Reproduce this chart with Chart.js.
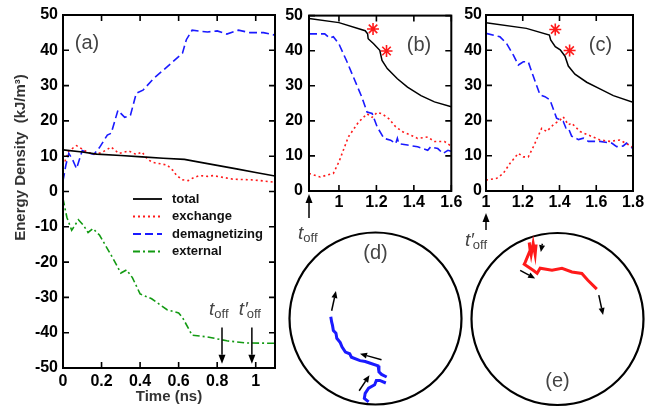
<!DOCTYPE html>
<html><head><meta charset="utf-8">
<script src="https://cdn.jsdelivr.net/npm/chart.js@4.4.0/dist/chart.umd.min.js"></script>
<style>
html,body{margin:0;padding:0;background:#fff;}
#wrap{position:relative;width:652px;height:408px;overflow:hidden;background:#fff;}
canvas{position:absolute;}
</style>
</head><body>
<div id="wrap">
<canvas id="cd" width="190" height="186" style="left:280px;top:222px"></canvas>
<canvas id="ce" width="190" height="186" style="left:462px;top:222px"></canvas>
<canvas id="ca" width="290" height="408" style="left:0;top:0"></canvas>
<canvas id="cb" width="190" height="270" style="left:276px;top:0"></canvas>
<canvas id="cc" width="194" height="270" style="left:458px;top:0"></canvas>
</div>
<script>
// ---------- DATA ----------
// Panel (a)
const aTicksX = [0, 0.2, 0.4, 0.6, 0.8, 1];
const aTicksY = [-50, -40, -30, -20, -10, 0, 10, 20, 30, 40, 50];
const aTotalT = [0, 0.1, 0.175, 0.3, 0.41, 0.52, 0.63, 0.7, 0.8, 0.9, 1.0, 1.1];
const aTotalE = [11.8, 11.2, 10.6, 10.2, 9.8, 9.4, 9.1, 8.4, 7.4, 6.4, 5.4, 4.4];
const aExchT = [0.01, 0.03, 0.07, 0.10, 0.13, 0.16, 0.2, 0.25, 0.29, 0.34, 0.38, 0.41, 0.44, 0.47, 0.51, 0.54, 0.57, 0.59, 0.62, 0.65, 0.68, 0.71, 0.75, 0.78, 0.83, 0.88, 0.93, 0.98, 1.04, 1.1];
const aExchE = [8.5, 11.5, 13.0, 12.0, 11.0, 10.6, 11.0, 12.6, 10.8, 11.5, 10.5, 11.2, 9.0, 8.2, 7.8, 7.5, 6.0, 4.5, 3.3, 3.1, 4.0, 4.5, 4.3, 4.5, 4.0, 3.5, 3.4, 3.3, 3.0, 2.6];
const aDemT = [0, 0.015, 0.03, 0.05, 0.07, 0.10, 0.13, 0.16, 0.19, 0.23, 0.25, 0.285, 0.32, 0.35, 0.38, 0.415, 0.47, 0.54, 0.62, 0.64, 0.67, 0.71, 0.75, 0.80, 0.85, 0.91, 0.97, 1.04, 1.1];
const aDemE = [3, 7.5, 10.8, 9.0, 6.5, 11.6, 11.0, 10.5, 12.5, 16, 16.5, 23, 21, 21.6, 27.8, 28.7, 32, 35.3, 39.2, 43, 45.7, 45.4, 45.2, 45.5, 44.6, 45.7, 45, 45, 44.3];
const aExtT = [0, 0.02, 0.045, 0.08, 0.105, 0.13, 0.155, 0.19, 0.26, 0.30, 0.33, 0.36, 0.40, 0.46, 0.54, 0.60, 0.62, 0.67, 0.75, 0.85, 0.95, 1.1];
const aExtE = [-2, -7.3, -11, -8, -9.5, -11.6, -10.5, -12.4, -19, -23.1, -22.2, -24.4, -29, -30.4, -33.5, -34.4, -35.7, -40.7, -41.2, -42.3, -42.9, -43];
const aLegend = ['total', 'exchange', 'demagnetizing', 'external'];
const tOff = 0.825, tOffPrime = 0.98;

// Panel (b)
const bTicksX = [1, 1.2, 1.4, 1.6];
const cTicksX = [1, 1.2, 1.4, 1.6, 1.8];
const bcTicksY = [0, 10, 20, 30, 40, 50];
const bTotalT = [0.84, 1.0, 1.14, 1.153, 1.156, 1.185, 1.218, 1.23, 1.258, 1.312, 1.366, 1.438, 1.51, 1.6];
const bTotalE = [49.2, 48.0, 45.7, 44.8, 43.4, 42, 40.1, 37.2, 34.9, 32, 29.6, 27.2, 25.4, 24];
const bDemT = [0.84, 0.924, 0.95, 0.97, 1.0, 1.04, 1.077, 1.122, 1.15, 1.177, 1.204, 1.24, 1.276, 1.303, 1.312, 1.32, 1.366, 1.42, 1.474, 1.49, 1.528, 1.555, 1.582, 1.604];
const bDemE = [44.8, 44.8, 43.6, 44, 41.9, 37.2, 32.5, 26.8, 22.5, 22.1, 18.3, 15, 14.5, 13.5, 15, 13.5, 13.1, 12.6, 11.6, 12.6, 12.1, 10.7, 11.6, 11.2];
const bExchT = [0.84, 0.9, 0.97, 1.0, 1.05, 1.104, 1.15, 1.177, 1.204, 1.23, 1.267, 1.303, 1.34, 1.384, 1.42, 1.474, 1.51, 1.564, 1.604];
const bExchE = [5, 4, 5, 8.3, 15.4, 19.6, 22, 21, 22.4, 22, 20.6, 18.3, 16.9, 15.9, 15, 15.4, 14.1, 14.1, 12.6];
const bStarT = [1.182, 1.254];
const bStarE = [46.2, 39.9];

// Panel (c)
const cTotalT = [1.0, 1.22, 1.345, 1.352, 1.377, 1.404, 1.43, 1.448, 1.484, 1.548, 1.62, 1.693, 1.8];
const cTotalE = [47.8, 46.2, 44.3, 42.9, 41, 40.1, 38.3, 35.5, 33.2, 30.9, 29, 27.1, 25.2];
const cDemT = [1.0, 1.076, 1.112, 1.149, 1.176, 1.203, 1.23, 1.258, 1.294, 1.321, 1.348, 1.384, 1.42, 1.435, 1.448, 1.466, 1.503, 1.53, 1.557, 1.62, 1.684, 1.711, 1.747, 1.765, 1.8];
const cDemE = [44.8, 43.8, 41.9, 38.6, 35.8, 36.7, 36.7, 32.5, 27.3, 26.8, 25.9, 20.7, 19.8, 17.9, 17.9, 15.6, 14.6, 15, 14.1, 14.1, 13.6, 12.6, 12.8, 13.6, 12];
const cExchT = [1.0, 1.058, 1.094, 1.13, 1.176, 1.203, 1.23, 1.258, 1.303, 1.33, 1.366, 1.404, 1.42, 1.448, 1.466, 1.512, 1.557, 1.62, 1.675, 1.729, 1.8];
const cExchE = [3.1, 3.6, 5, 7.8, 10.7, 9.7, 9.7, 12.6, 17.8, 16.9, 18.8, 20.2, 21.1, 18.8, 19.3, 16.9, 15.9, 14.5, 14.1, 14.5, 12.4];
const cStarT = [1.377, 1.455];
const cStarE = [45.9, 39.9];

// Panel (d) trajectory (projected unit sphere)
const dUpX = [-0.52, -0.51, -0.5, -0.49, -0.46, -0.45, -0.41, -0.39, -0.35, -0.3, -0.28, -0.18, -0.12, -0.06, 0.03, 0.04, 0.07, 0.13];
const dUpY = [0.02, -0.04, -0.08, -0.14, -0.17, -0.23, -0.28, -0.33, -0.39, -0.41, -0.45, -0.49, -0.5, -0.52, -0.55, -0.62, -0.65, -0.68];
const dLoX = [0.12, 0.05, 0.01, -0.01, -0.08, -0.12, -0.13, -0.08];
const dLoY = [-0.75, -0.72, -0.72, -0.77, -0.81, -0.87, -0.93, -0.97];
const dArrows = [[-0.51, 0.09, -0.46, 0.32], [0.07, -0.48, -0.18, -0.41], [-0.19, -0.84, -0.07, -0.66]];
// Panel (e)
const eX = [-0.249, -0.26, -0.283, -0.306, -0.329, -0.318, -0.376, -0.387, -0.283, -0.237, -0.202, -0.064, 0.052, 0.168, 0.283, 0.353, 0.457];
const eY = [0.867, 0.751, 0.879, 0.751, 0.89, 0.798, 0.659, 0.636, 0.566, 0.532, 0.59, 0.566, 0.59, 0.547, 0.529, 0.451, 0.347];
const eArrows = [[-0.176, 0.875, -0.194, 0.778], [-0.434, 0.566, -0.26, 0.47], [0.48, 0.277, 0.53, 0.046]];

// ---------- STYLE ----------
const FONT = "'Liberation Sans', Arial, Helvetica, sans-serif";
Chart.defaults.font.family = FONT;
const BLACK = '#000', RED = '#ff1a1a', BLUE = '#1a1aff', GREEN = '#129a12';
const DASH_EX = [2, 3], DASH_DEM = [8, 4], DASH_EXT = [7, 3, 2, 3];

function series(xs, ys, color, dash, width) {
  return { data: xs.map((x, i) => ({ x: x, y: ys[i] })), borderColor: color, borderDash: dash || [],
    borderWidth: width || 1.6, pointRadius: 0, fill: false, tension: 0 };
}
function stars(xs, ys) {
  return { data: xs.map((x, i) => ({ x: x, y: ys[i] })), showLine: false, pointStyle: 'star',
    pointRadius: 6, borderColor: RED, backgroundColor: RED, borderWidth: 1.6 };
}
function arrow(ctx, x1, y1, x2, y2, head, hw) {
  head = head || 8; hw = hw || 3.5;
  const ang = Math.atan2(y2 - y1, x2 - x1);
  const bx = x2 - head * Math.cos(ang), by = y2 - head * Math.sin(ang);
  ctx.beginPath(); ctx.moveTo(x1, y1); ctx.lineTo(bx, by); ctx.stroke();
  ctx.beginPath(); ctx.moveTo(x2, y2);
  ctx.lineTo(bx + hw * Math.sin(ang), by - hw * Math.cos(ang));
  ctx.lineTo(bx - hw * Math.sin(ang), by + hw * Math.cos(ang));
  ctx.closePath(); ctx.fill();
}
function frame(chart, xt, yt) {
  const { ctx, chartArea: a, scales } = chart;
  ctx.save(); ctx.strokeStyle = BLACK; ctx.lineWidth = 2; ctx.setLineDash([]);
  ctx.strokeRect(a.left, a.top, a.right - a.left, a.bottom - a.top);
  ctx.lineWidth = 1.6; ctx.beginPath();
  xt.forEach(v => { const p = scales.x.getPixelForValue(v);
    ctx.moveTo(p, a.bottom); ctx.lineTo(p, a.bottom - 6); ctx.moveTo(p, a.top); ctx.lineTo(p, a.top + 6); });
  yt.forEach(v => { const p = scales.y.getPixelForValue(v);
    ctx.moveTo(a.left, p); ctx.lineTo(a.left + 6, p); ctx.moveTo(a.right, p); ctx.lineTo(a.right - 6, p); });
  ctx.stroke(); ctx.restore();
}
function panelLabel(ctx, txt, x, y) {
  ctx.save(); ctx.fillStyle = '#444'; ctx.font = '20px ' + FONT;
  ctx.textAlign = 'center'; ctx.textBaseline = 'middle'; ctx.fillText(txt, x, y); ctx.restore();
}
function toffLabel(ctx, prime, x, y) {
  ctx.save(); ctx.fillStyle = '#444'; ctx.textBaseline = 'alphabetic'; ctx.textAlign = 'left';
  ctx.font = 'italic 19px ' + FONT; const t = prime ? 't\u2032' : 't';
  ctx.fillText(t, x, y); const w = ctx.measureText(t).width;
  ctx.font = '13px ' + FONT; ctx.fillText('off', x + w - (prime ? 1 : 0), y + 3); ctx.restore();
}
function tickFmt(v) { return String(Math.round(v * 10) / 10); }
function axes(xmin, xmax, xt, ymin, ymax, yt, yw, xh, xpad, ypad, xtitle) {
  return {
    x: { type: 'linear', min: xmin, max: xmax, grid: { display: false, drawTicks: false }, border: { display: false },
      afterBuildTicks: s => { s.ticks = xt.map(v => ({ value: v })); },
      afterFit: s => { s.height = xh; },
      ticks: { autoSkip: false, maxRotation: 0, padding: xpad, color: '#000', font: { size: 16, weight: 'bold' }, callback: tickFmt },
      title: xtitle ? { display: true, text: xtitle, color: '#333', font: { size: 15, weight: 'bold' }, padding: { top: 0, bottom: 2 } } : { display: false } },
    y: { type: 'linear', min: ymin, max: ymax, grid: { display: false, drawTicks: false }, border: { display: false },
      afterBuildTicks: s => { s.ticks = yt.map(v => ({ value: v })); },
      afterFit: s => { s.width = yw; },
      ticks: { autoSkip: false, padding: ypad, color: '#000', font: { size: 16, weight: 'bold' }, callback: tickFmt } }
  };
}
const common = { responsive: false, animation: false, events: [],
  plugins: { legend: { display: false }, tooltip: { enabled: false } } };

// ---------- (a) ----------
new Chart(document.getElementById('ca'), {
  type: 'line',
  data: { datasets: [
    series(aTotalT, aTotalE, BLACK, [], 1.6),
    series(aExchT, aExchE, RED, DASH_EX, 1.6),
    series(aDemT, aDemE, BLUE, DASH_DEM, 1.6),
    series(aExtT, aExtE, GREEN, DASH_EXT, 1.6)
  ] },
  options: Object.assign({}, common, {
    layout: { padding: { left: 0, top: 15, right: 15, bottom: 0 } },
    scales: axes(0, 1.1, aTicksX, -50, 50, aTicksY, 63, 40, 3.5, 5, 'Time (ns)')
  }),
  plugins: [{ id: 'decorA', afterDraw(chart) {
    const { ctx, chartArea: a, scales: { x, y } } = chart;
    frame(chart, aTicksX, aTicksY);
    // y title
    ctx.save(); ctx.translate(21, 157.5); ctx.rotate(-Math.PI / 2);
    ctx.fillStyle = '#333'; ctx.font = 'bold 15px ' + FONT; ctx.textAlign = 'center'; ctx.textBaseline = 'middle';
    ctx.fillText('Energy Density  (kJ/m\u00B3)', 0, 0); ctx.restore();
    // legend
    ctx.save();
    chart.data.datasets.forEach((ds, i) => {
      const yy = a.top + 184 + i * 17.5;
      ctx.strokeStyle = ds.borderColor; ctx.lineWidth = 1.8; ctx.setLineDash(ds.borderDash);
      ctx.beginPath(); ctx.moveTo(a.left + 70, yy); ctx.lineTo(a.left + 99, yy); ctx.stroke();
      ctx.setLineDash([]); ctx.fillStyle = '#111'; ctx.font = 'bold 13px ' + FONT;
      ctx.textAlign = 'left'; ctx.textBaseline = 'middle'; ctx.fillText(aLegend[i], a.left + 109, yy);
    });
    ctx.restore();
    // arrows t_off
    ctx.save(); ctx.strokeStyle = BLACK; ctx.fillStyle = BLACK; ctx.lineWidth = 1.5;
    [tOff, tOffPrime].forEach((t, i) => {
      const px = x.getPixelForValue(t);
      arrow(ctx, px, y.getPixelForValue(-38.5), px, y.getPixelForValue(-48.8), 9, 3.5);
      toffLabel(ctx, i === 1, px - 13, y.getPixelForValue(-38.5) - 12);
    });
    ctx.restore();
    panelLabel(ctx, '(a)', 87, 43);
  } }]
});

// ---------- (b) ----------
new Chart(document.getElementById('cb'), {
  type: 'line',
  data: { datasets: [
    series(bTotalT, bTotalE, BLACK, [], 1.5),
    series(bExchT, bExchE, RED, DASH_EX, 1.6),
    series(bDemT, bDemE, BLUE, DASH_DEM, 1.6),
    stars(bStarT, bStarE)
  ] },
  options: Object.assign({}, common, {
    layout: { padding: { left: 0, top: 15, right: 14.7, bottom: 49 } },
    scales: axes(0.84, 1.6, bTicksX, 0, 50, bcTicksY, 33, 30, 2, 6)
  }),
  plugins: [{ id: 'decorB', afterDraw(chart) {
    const { ctx, chartArea: a, scales: { x } } = chart;
    frame(chart, bTicksX, bcTicksY);
    ctx.save(); ctx.strokeStyle = BLACK; ctx.fillStyle = BLACK; ctx.lineWidth = 1.5;
    const px = x.getPixelForValue(0.84);
    arrow(ctx, px, a.bottom + 27, px, a.bottom + 3, 9, 3.5);
    ctx.restore();
    toffLabel(ctx, false, px - 11, a.bottom + 48);
    panelLabel(ctx, '(b)', 419 - 276, 45);
  } }]
});

// ---------- (c) ----------
new Chart(document.getElementById('cc'), {
  type: 'line',
  data: { datasets: [
    series(cTotalT, cTotalE, BLACK, [], 1.5),
    series(cExchT, cExchE, RED, DASH_EX, 1.6),
    series(cDemT, cDemE, BLUE, DASH_DEM, 1.6),
    stars(cStarT, cStarE)
  ] },
  options: Object.assign({}, common, {
    layout: { padding: { left: 0, top: 15, right: 19, bottom: 49 } },
    scales: axes(1, 1.8, cTicksX, 0, 50, bcTicksY, 28, 30, 2, 4)
  }),
  plugins: [{ id: 'decorC', afterDraw(chart) {
    const { ctx, chartArea: a, scales: { x } } = chart;
    frame(chart, cTicksX, bcTicksY);
    ctx.save(); ctx.strokeStyle = BLACK; ctx.fillStyle = BLACK; ctx.lineWidth = 1.5;
    const px = x.getPixelForValue(1);
    arrow(ctx, px, a.bottom + 39, px, a.bottom + 22, 9, 3.5);
    ctx.restore();
    toffLabel(ctx, true, px - 21, a.bottom + 55);
    panelLabel(ctx, '(c)', 600.5 - 458, 45);
  } }]
});

// ---------- (d), (e) ----------
function sphere(id, datasets, arrows, label, lx, ly, pad) {
  new Chart(document.getElementById(id), {
    type: 'line',
    data: { datasets: datasets },
    options: Object.assign({}, common, {
      layout: { padding: pad },
      scales: { x: { type: 'linear', min: -1, max: 1, display: false }, y: { type: 'linear', min: -1, max: 1, display: false } }
    }),
    plugins: [{ id: 'circ' + id, beforeDatasetsDraw(chart) {
      const { ctx, scales: { x, y } } = chart;
      const cx = x.getPixelForValue(0), cy = y.getPixelForValue(0), r = x.getPixelForValue(1) - cx;
      ctx.save(); ctx.strokeStyle = BLACK; ctx.lineWidth = 2.2;
      ctx.beginPath(); ctx.arc(cx, cy, r, 0, Math.PI * 2); ctx.stroke(); ctx.restore();
    }, afterDraw(chart) {
      const { ctx, scales: { x, y } } = chart;
      ctx.save(); ctx.strokeStyle = BLACK; ctx.fillStyle = BLACK; ctx.lineWidth = 1.5;
      arrows.forEach(ar => arrow(ctx, x.getPixelForValue(ar[0]), y.getPixelForValue(ar[1]),
        x.getPixelForValue(ar[2]), y.getPixelForValue(ar[3]), 7, 3));
      ctx.restore();
      panelLabel(ctx, label, x.getPixelForValue(lx), y.getPixelForValue(ly));
    } }]
  });
}
sphere('cd', [series(dUpX, dUpY, BLUE, [], 3), series(dLoX, dLoY, BLUE, [], 3)], dArrows, '(d)', 0, 0.76,
  { left: 9.5, top: 10.5, right: 8.5, bottom: 3.5 });
sphere('ce', [series(eX, eY, RED, [], 3)], eArrows, '(e)', 0, -0.73,
  { left: 9.5, top: 11, right: 8.5, bottom: 3 });
</script>
</body></html>
